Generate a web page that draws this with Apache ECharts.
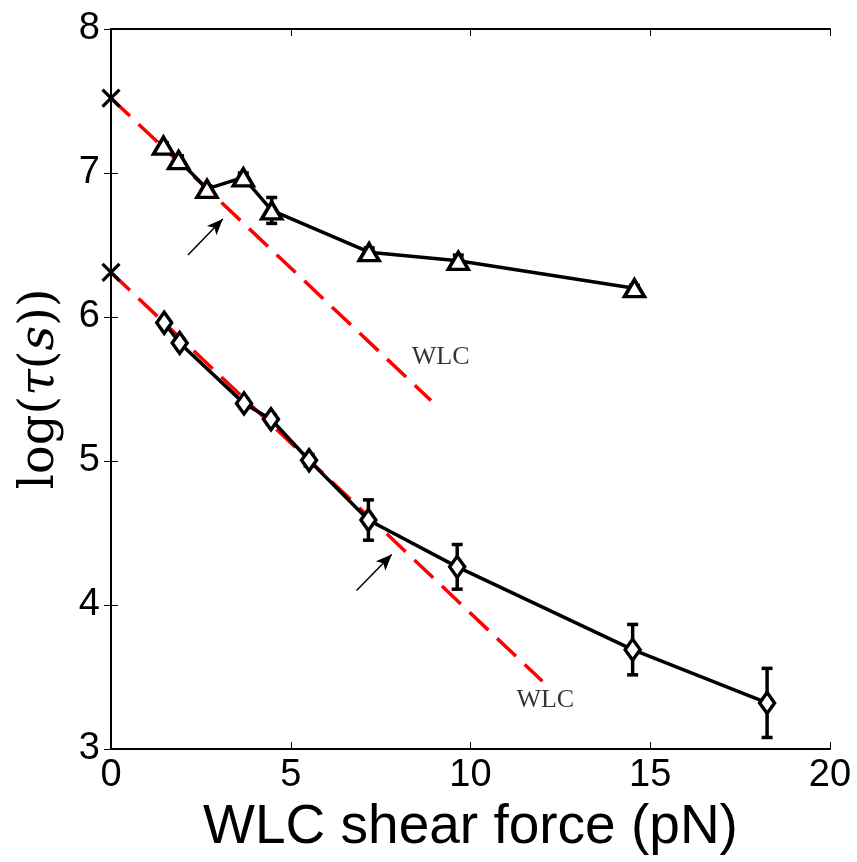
<!DOCTYPE html>
<html>
<head>
<meta charset="utf-8">
<script src="https://cdn.jsdelivr.net/npm/echarts@6/dist/echarts.min.js"></script>
<style>html,body{margin:0;padding:0;background:#fff;}#c{width:857px;height:862px;}</style>
</head>
<body>
<div id="c"></div>
<script>
// ---- data ----
const triForce = [1.46, 1.88, 2.67, 3.68, 4.47, 7.18, 9.66, 14.56];
const triLog   = [7.19, 7.09, 6.89, 6.97, 6.74, 6.45, 6.39, 6.20];
const triErr   = [0.02, 0.03, 0.02, 0.03, 0.09, 0.03, 0.04, 0.02];

const diaForce = [1.48, 1.91, 3.70, 4.45, 5.51, 7.16, 9.63, 14.51, 18.25];
const diaLog   = [5.96, 5.82, 5.40, 5.29, 5.005, 4.59, 4.265, 3.69, 3.32];
const diaErr   = [0.02, 0.03, 0.03, 0.03, 0.04, 0.14, 0.155, 0.175, 0.24];

const crossForce = [0, 0];
const crossLog   = [7.52, 6.31];

const wlcUpperForce = [0, 8.9];
const wlcUpperLog   = [7.52, 5.42];
const wlcLowerForce = [0, 12];
const wlcLowerLog   = [6.31, 3.47];

const wlcLabelForce = [9.17, 12.08];
const wlcLabelLog   = [5.72, 3.34];
const wlcLabelText  = ['WLC', 'WLC'];

const arrowFrom = [[2.14, 6.43], [6.83, 4.10]];
const arrowTo   = [[3.11, 6.68], [7.81, 4.35]];

const xTicks = [0, 5, 10, 15, 20];
const yTicks = [3, 4, 5, 6, 7, 8];

// ---- build ----
const zip = (a, b) => a.map((v, i) => [v, b[i]]);
const zip3 = (a, b, c) => a.map((v, i) => [v, b[i], c[i]]);

function errRender(params, api) {
  const x = api.value(0), y = api.value(1), e = api.value(2);
  const t = api.coord([x, y + e]), b = api.coord([x, y - e]);
  const hw = 5.5;
  const st = {stroke: '#000', lineWidth: 3.5};
  return {type: 'group', children: [
    {type: 'line', shape: {x1: t[0], y1: t[1], x2: b[0], y2: b[1]}, style: st},
    {type: 'line', shape: {x1: t[0] - hw, y1: t[1], x2: t[0] + hw, y2: t[1]}, style: st},
    {type: 'line', shape: {x1: b[0] - hw, y1: b[1], x2: b[0] + hw, y2: b[1]}, style: st}
  ]};
}

function crossRender(params, api) {
  const c = api.coord([api.value(0), api.value(1)]);
  const h = 8.5;
  const st = {stroke: '#000', lineWidth: 3.2};
  return {type: 'group', children: [
    {type: 'line', shape: {x1: c[0] - h, y1: c[1] - h, x2: c[0] + h, y2: c[1] + h}, style: st},
    {type: 'line', shape: {x1: c[0] - h, y1: c[1] + h, x2: c[0] + h, y2: c[1] - h}, style: st}
  ]};
}

const tickFont = {fontFamily: 'Liberation Sans, Arial, sans-serif', fontSize: 38, color: '#000'};
const axisCommon = {
  axisLine: {show: true, lineStyle: {color: '#000', width: 2}},
  axisTick: {show: true, inside: true, length: 7, lineStyle: {color: '#000', width: 1}},
  splitLine: {show: false}
};

const serif = '"DejaVu Serif", "Liberation Serif", serif';

const chart = echarts.init(document.getElementById('c'), null, {renderer: 'canvas'});
chart.setOption({
  animation: false,
  backgroundColor: '#fff',
  grid: {left: 111, top: 29, width: 719, height: 720, show: false},
  xAxis: [
    Object.assign({type: 'value', min: xTicks[0], max: xTicks[xTicks.length - 1], interval: 5, position: 'bottom',
      name: 'WLC shear force (pN)', nameLocation: 'middle', nameGap: 34,
      nameTextStyle: {fontFamily: 'Liberation Sans, Arial, sans-serif', fontSize: 55, color: '#000', verticalAlign: 'top'},
      axisLabel: Object.assign({margin: 8}, tickFont)}, axisCommon),
    Object.assign({type: 'value', min: xTicks[0], max: xTicks[xTicks.length - 1], interval: 5, position: 'top',
      axisLabel: {show: false}}, axisCommon)
  ],
  yAxis: [
    Object.assign({type: 'value', min: yTicks[0], max: yTicks[yTicks.length - 1], interval: 1, position: 'left',
      name: '{n|log(}{i|τ}{n|(}{i|s}{n|))}', nameLocation: 'middle', nameGap: 46, nameRotate: 90,
      nameTextStyle: {fontFamily: serif, fontSize: 48, color: '#000',
        rich: {n: {fontFamily: serif, fontSize: 48, color: '#000'},
               i: {fontFamily: serif, fontSize: 48, color: '#000', fontStyle: 'italic'}}},
      axisLabel: Object.assign({margin: 11}, tickFont)}, axisCommon),
    Object.assign({type: 'value', min: yTicks[0], max: yTicks[yTicks.length - 1], interval: 1, position: 'right',
      axisLabel: {show: false}}, axisCommon)
  ],
  series: [
    {type: 'line', name: 'wlcUpper', data: zip(wlcUpperForce, wlcUpperLog), showSymbol: false, symbol: 'none', z: 1,
      lineStyle: {color: '#ff0000', width: 3.5, type: [26, 12]},
      markLine: {silent: true, symbol: ['none', 'arrow'], symbolSize: [10, 16], label: {show: false},
        lineStyle: {color: '#000', width: 1.5, type: 'solid'},
        data: arrowFrom.map((p, i) => [{coord: p}, {coord: arrowTo[i]}])}},
    {type: 'line', name: 'wlcLower', data: zip(wlcLowerForce, wlcLowerLog), showSymbol: false, symbol: 'none', z: 1,
      lineStyle: {color: '#ff0000', width: 3.5, type: [26, 12]}},
    {type: 'custom', name: 'triErr', renderItem: errRender, data: zip3(triForce, triLog, triErr), z: 2},
    {type: 'custom', name: 'diaErr', renderItem: errRender, data: zip3(diaForce, diaLog, diaErr), z: 2},
    {type: 'line', name: 'tri', data: zip(triForce, triLog), z: 3, symbol: 'triangle', symbolSize: [20, 17], showAllSymbol: true,
      lineStyle: {color: '#000', width: 3.5}, itemStyle: {color: '#fff', borderColor: '#000', borderWidth: 3.5}},
    {type: 'line', name: 'dia', data: zip(diaForce, diaLog), z: 3, symbol: 'diamond', symbolSize: [15, 21], showAllSymbol: true,
      lineStyle: {color: '#000', width: 3.5}, itemStyle: {color: '#fff', borderColor: '#000', borderWidth: 3.5}},
    {type: 'custom', name: 'cross', renderItem: crossRender, data: zip(crossForce, crossLog), z: 4, clip: false},
    {type: 'scatter', name: 'labels', data: zip(wlcLabelForce, wlcLabelLog), symbolSize: 0, z: 4,
      label: {show: true, position: 'inside', formatter: p => wlcLabelText[p.dataIndex],
        fontFamily: '"Liberation Serif", "Times New Roman", serif', fontSize: 26, color: '#000'}}
  ]
});
</script>
</body>
</html>
